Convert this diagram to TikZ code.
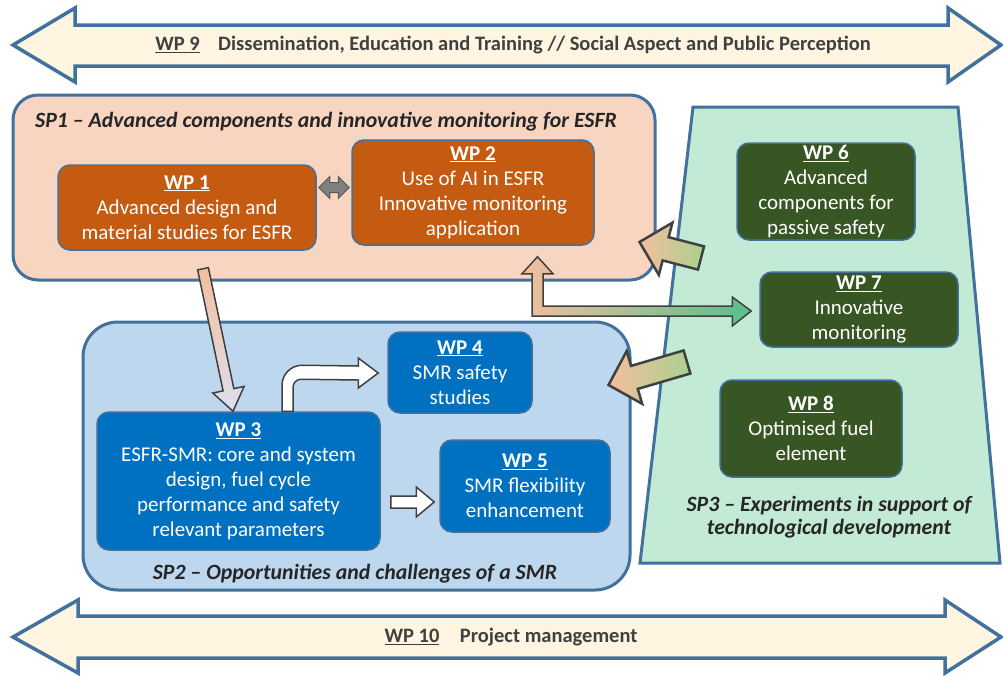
\documentclass[tikz,border=0pt]{standalone}
\usepackage{fontspec}
\setmainfont{Carlito}
\usetikzlibrary{calc}

\definecolor{spline}{HTML}{41719C}
\definecolor{peach}{HTML}{F8D5C0}
\definecolor{rust}{HTML}{C55A11}
\definecolor{skyfill}{HTML}{BDD7EE}
\definecolor{wpblue}{HTML}{0070C0}
\definecolor{mint}{HTML}{C3EAD5}
\definecolor{forest}{HTML}{375623}
\definecolor{cream}{HTML}{FFF5E1}
\definecolor{arrowline}{HTML}{404040}
\definecolor{arrowpeach}{HTML}{F4BE9F}
\definecolor{arrowgreen}{HTML}{A9D18E}
\definecolor{arrowjade}{HTML}{55C08A}
\definecolor{arrowlilac}{HTML}{DCE0EE}
\definecolor{titlegrey}{HTML}{262626}
\definecolor{bandgrey}{HTML}{404040}

\newcommand{\wptitle}[1]{\textbf{\underline{#1}}}

% block arrow: style, tail, tip, shaft width, head width, head length
\newcommand{\fatarrow}[6]{%
  \path (#2) coordinate (fa-t) (#3) coordinate (fa-e);
  \coordinate (fa-h) at ($(fa-e)!#6!(fa-t)$);
  \draw[#1] ($(fa-t)!#4/2!90:(fa-e)$) -- ($(fa-h)!#4/2!90:(fa-e)$) -- ($(fa-h)!#5/2!90:(fa-e)$)
    -- (fa-e) -- ($(fa-h)!#5/2!-90:(fa-e)$) -- ($(fa-h)!#4/2!-90:(fa-e)$) -- ($(fa-t)!#4/2!-90:(fa-e)$) -- cycle;
}
% same with a head at both ends
\newcommand{\fatdarrow}[6]{%
  \path (#2) coordinate (fa-a) (#3) coordinate (fa-b);
  \coordinate (fa-ha) at ($(fa-a)!#6!(fa-b)$);
  \coordinate (fa-hb) at ($(fa-b)!#6!(fa-a)$);
  \draw[#1] (fa-a) -- ($(fa-ha)!#5/2!90:(fa-b)$) -- ($(fa-ha)!#4/2!90:(fa-b)$) -- ($(fa-hb)!#4/2!-90:(fa-a)$)
    -- ($(fa-hb)!#5/2!-90:(fa-a)$) -- (fa-b) -- ($(fa-hb)!#5/2!90:(fa-a)$) -- ($(fa-hb)!#4/2!90:(fa-a)$)
    -- ($(fa-ha)!#4/2!-90:(fa-b)$) -- ($(fa-ha)!#5/2!-90:(fa-b)$) -- cycle;
}

\begin{document}
\begin{tikzpicture}[x=1pt,y=-1pt,
  spbox/.style={draw=spline, line width=3pt},
  wpbox/.style={draw=spline, line width=1.5pt, rounded corners=12pt, text=white, align=center,
    inner sep=0pt, font=\fontsize{21}{25}\selectfont},
  sptitle/.style={text=titlegrey, inner sep=0pt, align=center,
    font=\fontsize{21.8}{23.5}\selectfont\bfseries\itshape},
  band/.style={draw=spline, line width=3.5pt, fill=cream},
  bandtext/.style={text=bandgrey, inner sep=0pt, font=\fontsize{20.5}{22}\selectfont\bfseries},
  openarrow/.style={draw=arrowline, line width=1.5pt, fill=white},
  bigarrow/.style={draw=arrowline, line width=2.5pt, left color=arrowpeach, right color=arrowgreen},
  greyarrow/.style={draw=black!65, line width=1pt, fill=black!50}]
\useasboundingbox[fill=white] (0,0) rectangle (1003,675);

% bands
\draw[band] (13,45) -- (75,8) -- (75,25) -- (948,25) -- (948,8) -- (1001,45) -- (948,82)
  -- (948,66) -- (75,66) -- (75,82) -- cycle;
\node[bandtext] (wp9) at (513,45) {\underline{WP 9}\hspace{0.9em}Dissemination, Education and Training // Social Aspect and Public Perception};
\draw[band] (13,637) -- (78,600) -- (78,616) -- (945,616) -- (945,600) -- (1001,637) -- (945,673)
  -- (945,658) -- (78,658) -- (78,673) -- cycle;
\node[bandtext] (wp10) at (511,637) {\underline{WP 10}\hspace{1em}Project management};

% sub-projects
\node[spbox, fill=peach, rounded corners=25pt, minimum width=642pt, minimum height=185pt] (sp1) at (334,187.5) {};
\node[sptitle, anchor=west] (sp1t) at (35,122) {SP1 -- Advanced components and innovative monitoring for ESFR};
\node[spbox, fill=skyfill, rounded corners=35pt, minimum width=547pt, minimum height=268pt] (sp2) at (356.5,456) {};
\node[sptitle] (sp2t) at (355,574) {SP2 -- Opportunities and challenges of a SMR};
\draw[spbox, fill=mint] (693,107) -- (958,107) -- (1000,563) -- (640,563) -- cycle;
\node[sptitle] (sp3t) at (829,517) {SP3 -- Experiments in support of\\technological development};

% work packages
\node[wpbox, fill=rust, minimum width=258pt, minimum height=85pt] (wp1) at (187,207.5)
  {\wptitle{WP 1}\\Advanced design and\\material studies for ESFR};
\node[wpbox, fill=rust, minimum width=242pt, minimum height=105pt] (wp2) at (473,192.5)
  {\wptitle{WP 2}\\Use of AI in ESFR\\Innovative monitoring\\application};
\node[wpbox, fill=wpblue, minimum width=283pt, minimum height=138pt] (wp3) at (238.5,481)
  {\wptitle{WP 3}\\ESFR-SMR: core and system\\design, fuel cycle\\performance and safety\\relevant parameters};
\node[wpbox, fill=wpblue, minimum width=144pt, minimum height=81pt] (wp4) at (460,372.5)
  {\wptitle{WP 4}\\SMR safety\\studies};
\node[wpbox, fill=wpblue, minimum width=170pt, minimum height=92pt] (wp5) at (525,486)
  {\wptitle{WP 5}\\SMR flexibility\\enhancement};
\node[wpbox, fill=forest, minimum width=178pt, minimum height=97pt] (wp6) at (826,191.5)
  {\wptitle{WP 6}\\Advanced\\components for\\passive safety};
\node[wpbox, fill=forest, minimum width=198pt, minimum height=75pt] (wp7) at (859,309.5)
  {\wptitle{WP 7}\\Innovative\\monitoring};
\node[wpbox, fill=forest, minimum width=182pt, minimum height=97pt] (wp8) at (811,428.5)
  {\wptitle{WP 8}\\Optimised fuel\\element};

% links
\fatdarrow{greyarrow}{$(wp1.east)+(2,-20)$}{$(wp2.west)+(-2,-5)$}{10pt}{22pt}{11pt}
\fatarrow{draw=arrowline, line width=1.5pt, top color=arrowpeach, bottom color=arrowlilac}
  {$(wp1.south)+(16,18)$}{$(wp3.north)+(-5.5,0)$}{11pt}{32pt}{22pt}
\fatarrow{openarrow}{$(wp3.east)+(10,21)$}{$(wp5.west)+(-5,16)$}{12pt}{30pt}{18pt}
\draw[openarrow] ($(wp3.north)+(43.5,0)$) -- ++(0,-26) .. controls +(0,-11) and +(-11,0) .. ++(20,-20)
  -- ($(wp4.west)+(-29,-6.5)$) -- ++(0,-8) -- ($(wp4.west)+(-9,0.5)$) -- ++(-20,15) -- ++(0,-8)
  -- ($(wp3.north)+(62.5,-32)$) .. controls +(-4.4,0) and +(0,-4.4) .. ++(-8,8) -- ($(wp3.north)+(54.5,0)$) -- cycle;
\coordinate (up2) at ($(wp2.south)+(64.5,11)$);
\coordinate (in7) at ($(wp7.west)+(-8,1.5)$);
\draw[draw=arrowline, line width=1.5pt, left color=arrowpeach, right color=arrowjade]
  (up2) -- ++(15.5,17) -- ++(-10,0) |- ($(in7)+(-19,-5)$) -- ++(0,-9) -- (in7) -- ++(-19,15)
  -- ++(0,-10) -| ($(up2)+(-5.5,17)$) -- ++(-10,0) -- cycle;
\coordinate (out1) at (701,258);
\coordinate (out2) at (687,362);
\fatarrow{bigarrow}{out1}{$(sp1.east)+(-17,54.5)$}{24pt}{54pt}{27pt}
\fatarrow{bigarrow}{out2}{$(sp2.east)+(-23,-71)$}{24pt}{55pt}{27pt}
\end{tikzpicture}
\end{document}
